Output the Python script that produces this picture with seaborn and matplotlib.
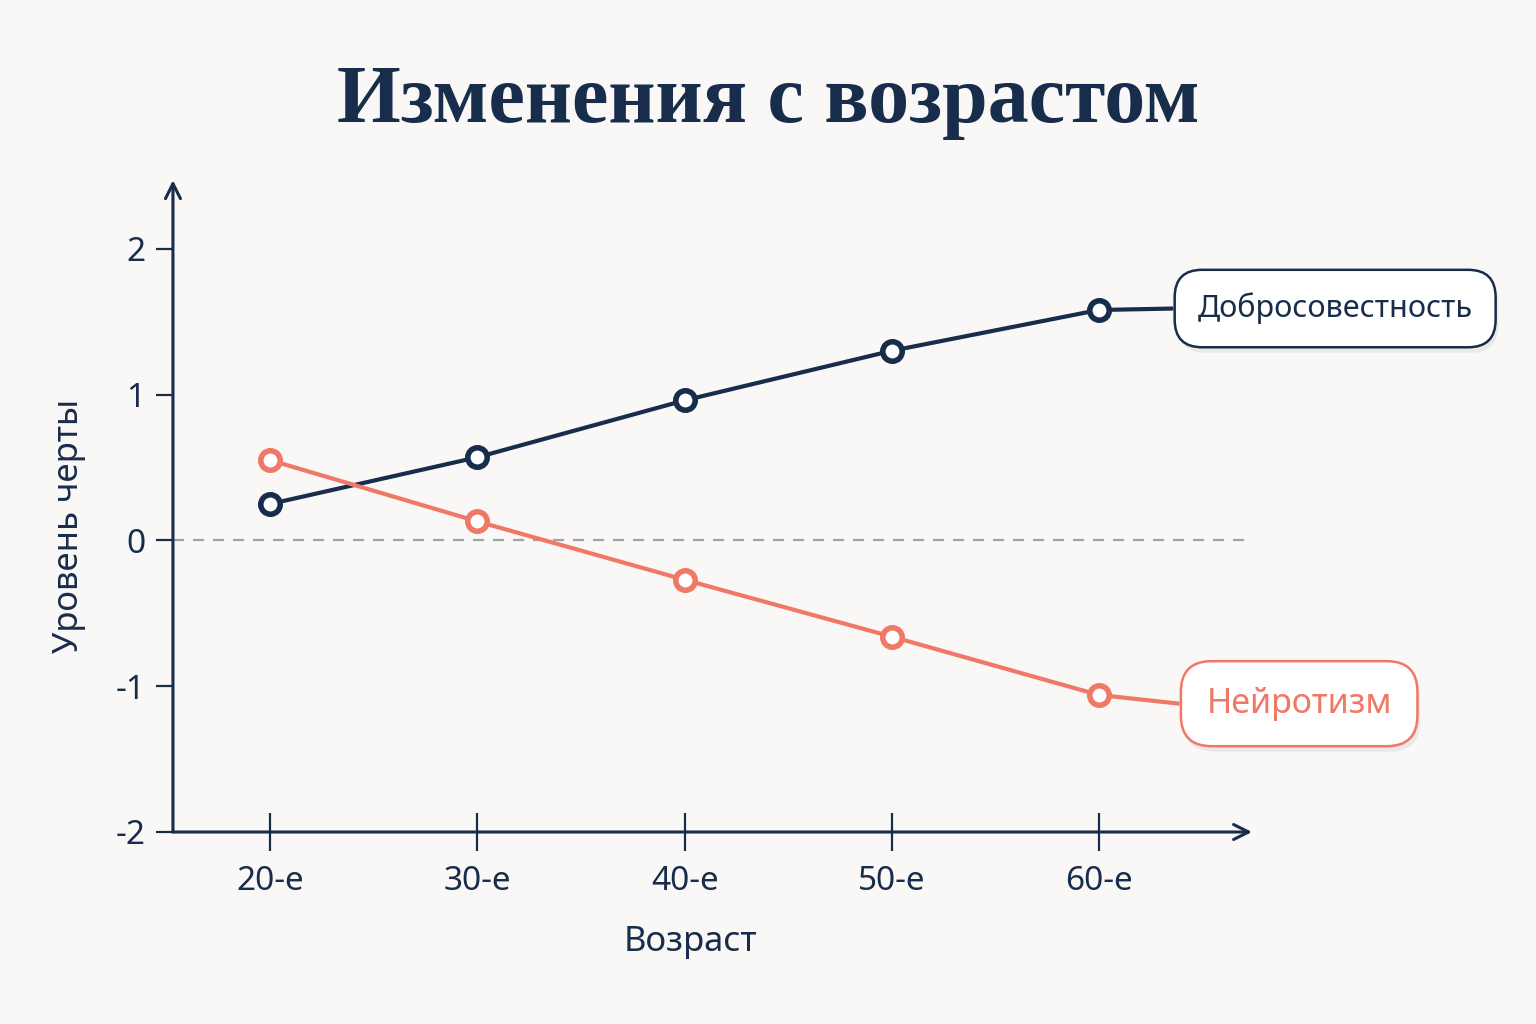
import matplotlib
matplotlib.use('Agg')
import matplotlib.pyplot as plt
import matplotlib.patheffects as pe
import seaborn as sns
import pandas as pd

# data
ages = ['20-е', '30-е', '40-е', '50-е', '60-е']
conscientiousness = [0.25, 0.57, 0.96, 1.30, 1.58]
neuroticism = [0.55, 0.13, -0.27, -0.66, -1.06]
series_names = ['Добросовестность', 'Нейротизм']
y_ticks = [-2, -1, 0, 1, 2]

navy = '#172d4b'
coral = '#f07866'
bg = '#faf8f6'

sns.set_theme(style='white')
plt.rcParams['font.family'] = ['Noto Sans', 'DejaVu Sans']

df = pd.DataFrame({
    'age': ages * 2,
    'value': conscientiousness + neuroticism,
    'trait': [series_names[0]] * len(ages) + [series_names[1]] * len(ages),
})

fig = plt.figure(figsize=(15.36, 10.24), dpi=100, facecolor=bg)
ax = fig.add_axes([0.1126, 0.1875, 0.7025, 0.6365])
ax.set_facecolor(bg)

palette = {series_names[0]: navy, series_names[1]: coral}
ax.axhline(0, color='#a3a3a3', lw=1.6, ls=(0, (5, 4)), zorder=1)

sns.lineplot(data=df, x='age', y='value', hue='trait', palette=palette,
             lw=3, marker='o', markersize=14, markerfacecolor='white',
             markeredgewidth=4, legend=False, ax=ax, zorder=3)
for line in ax.lines[1:]:
    line.set_markeredgecolor(line.get_color())

ax.set_xlim(-0.47, 4.74)
ax.set_ylim(-2, 2.47)

# labels at the right end, connected by a short line
label_x = {series_names[0]: 4.36, series_names[1]: 4.39}
label_dy = {series_names[0]: 0.01, series_names[1]: -0.06}
label_size = {series_names[0]: 22, series_names[1]: 24.5}
pad = 0.75
for name, vals in zip(series_names, [conscientiousness, neuroticism]):
    c = palette[name]
    y_end = vals[-1] + label_dy[name]
    ax.plot([len(ages) - 1, label_x[name]], [vals[-1], y_end], color=c, lw=3, zorder=2,
            solid_capstyle='butt')
    t = ax.annotate(name, xy=(label_x[name], y_end),
                    xytext=(pad * label_size[name] + 1, 0), textcoords='offset points',
                    color=c, fontsize=label_size[name], ha='left', va='center',
                    zorder=5, annotation_clip=False,
                    bbox=dict(boxstyle=f'round,pad={pad},rounding_size=0.9', fc='white',
                              ec=c, lw=1.8))
    t.get_bbox_patch().set_path_effects([
        pe.SimplePatchShadow(offset=(2, -4), shadow_rgbFace='#000000', alpha=0.06),
        pe.Normal()])

for s in ax.spines.values():
    s.set_visible(False)

# axes with arrow heads
ax.annotate('', xy=(0, 1.0), xytext=(0, 0), xycoords='axes fraction',
            arrowprops=dict(arrowstyle='->,head_length=0.9,head_width=0.45',
                            color=navy, lw=2.2, shrinkA=0, shrinkB=0))
ax.annotate('', xy=(1.0, 0), xytext=(0, 0), xycoords='axes fraction',
            arrowprops=dict(arrowstyle='->,head_length=0.9,head_width=0.45',
                            color=navy, lw=2.2, shrinkA=0, shrinkB=0))

ax.set_yticks(y_ticks)
ax.set_yticklabels([str(v) for v in y_ticks])
ax.tick_params(axis='y', direction='out', length=12, width=1.6, color=navy,
               labelcolor=navy, labelsize=24, pad=8, left=True)
ax.tick_params(axis='x', direction='inout', length=28, width=1.6, color=navy,
               labelcolor=navy, labelsize=24, pad=10, bottom=True)

ax.set_xlabel('Возраст', fontsize=25, color=navy)
ax.set_ylabel('Уровень черты', fontsize=25, color=navy)
ax.xaxis.set_label_coords(0.48, -0.142)
ax.yaxis.set_label_coords(-0.081, 0.47)

fig.text(0.5, 0.9, 'Изменения с возрастом', ha='center', va='center',
         fontsize=59, color=navy, family=['Liberation Serif', 'DejaVu Serif'],
         fontweight='bold')

fig.savefig('out.png', dpi=100, facecolor=bg)
